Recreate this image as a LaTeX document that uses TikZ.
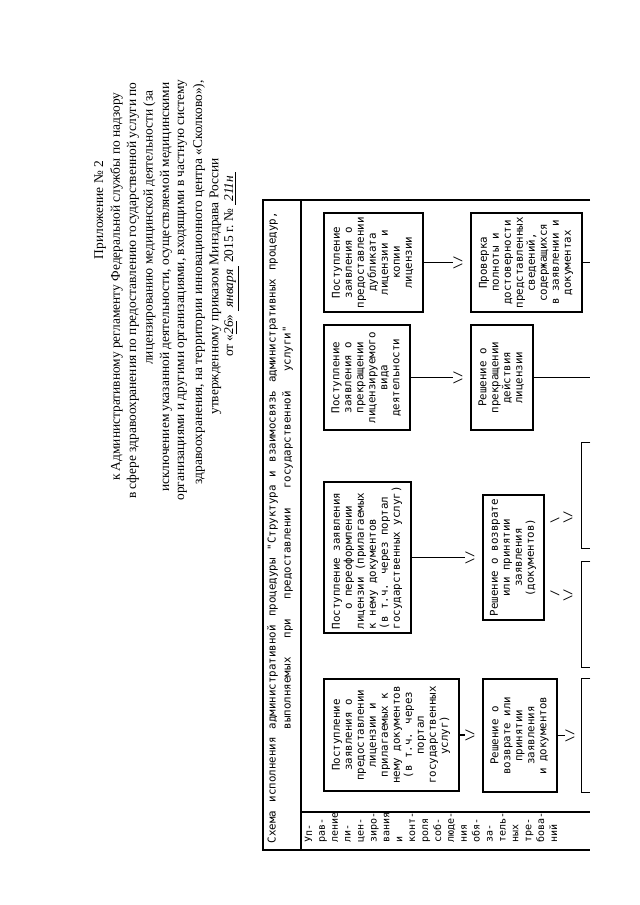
\documentclass[tikz,border=0pt]{standalone}
\usepackage{fontspec}
\usepackage{graphicx}
\setmainfont{Liberation Serif}
\newfontfamily\monof{DejaVu Sans Mono}
\newcommand\btx[2][c]{\rotatebox{90}{\monof\fontsize{5.4}{6}\selectfont\begin{tabular}{@{}#1@{}}#2\end{tabular}}}
\newcommand\hw[1]{\underline{\textit{#1}}}
\newcommand\vv{\rotatebox{90}{\monof\fontsize{5.4}{6}\selectfont\textbackslash/}}
\newcommand\slsh[1]{\rotatebox{90}{\monof\fontsize{5.4}{6}\selectfont #1}}
\begin{document}
\begin{tikzpicture}[x=0.5pt,y=-0.5pt,
  box/.style={draw, line width=0.6pt, inner sep=0pt, outer sep=0pt},
  frame/.style={line width=0.8pt},
  conn/.style={line width=0.6pt},
  hd/.style={rotate=90, inner sep=0pt, font=\fontsize{6.7}{8}\selectfont},
  vtip/.style={inner sep=0pt, outer sep=0.5pt}]
\useasboundingbox (0,0) rectangle (640,905);
\fill[white] (0,0) rectangle (640,905);

% header
\node[hd, anchor=center] (h1) at (100,210) {Приложение № 2};
\node[hd, anchor=east] (h2) at (116.5,92) {к Административному регламенту Федеральной службы по надзору};
\node[hd, anchor=east] (h3) at (133,82) {в сфере здравоохранения по предоставлению государственной услуги по};
\node[hd, anchor=east] (h4) at (149.5,90) {лицензированию медицинской деятельности (за};
\node[hd, anchor=east] (h5) at (166,82) {исключением указанной деятельности, осуществляемой медицинскими};
\node[hd, anchor=east] (h6) at (182.5,79) {организациями и другими организациями, входящими в частную систему};
\node[hd, anchor=east] (h7) at (199,80) {здравоохранения, на территории инновационного центра «Сколково»),};
\node[hd, anchor=east] (h8) at (215.5,158) {утвержденному приказом Минздрава России};
\node[hd, anchor=east] (h9) at (232,172) {от «\hw{26}» \hw{~января~} 2015 г. № \hw{~211н~}};

% frame
\draw[frame] (590,200) -- (263,200) -- (263,850) -- (590,850);
\draw[frame] (301,200) -- (301,850);
\draw[frame] (301,812) -- (590,812);

% title
\node[inner sep=0pt] (title) at (280,527.5) {\rotatebox{90}{\monof\fontsize{5.4}{7.5}\selectfont\begin{tabular}{@{}c@{}}\makebox[315.5pt]{Схема\hfill исполнения\hfill административной\hfill процедуры\hfill "Структура\hfill и\hfill взаимосвязь\hfill административных\hfill процедур,}\\\makebox[201.5pt]{выполняемых\hfill при\hfill предоставлении\hfill государственной\hfill услуги"}\end{tabular}}};

% lane label
\node[inner sep=0pt, anchor=south] (lane) at (432,843) {\rotatebox{90}{\monof\fontsize{5}{6.45}\selectfont\begin{tabular}{@{}l@{}}Уп-\\рав-\\ление\\ли-\\цен-\\зиро-\\вания\\и\\конт-\\роля\\соб-\\люде-\\ния\\обя-\\за-\\тель-\\ных\\тре-\\бова-\\ний\end{tabular}}};

% boxes
\node[box, minimum width=49.5pt, minimum height=49.5pt] (A) at (373.5,262.5) {\btx{Поступление\\заявления о\\предоставлении\\дубликата\\лицензии и\\копии\\лицензии}};
\node[box, minimum width=43pt, minimum height=52.5pt] (B) at (367,377.5) {\btx{Поступление\\заявления о\\прекращении\\лицензируемого\\вида\\деятельности}};
\node[box, minimum width=43.5pt, minimum height=75.5pt] (C) at (367.5,557.5) {\btx[l]{Поступление заявления\\\ \ \ о переоформлении\\лицензии (прилагаемых\\к нему документов\\(в т.ч. через портал\\государственных услуг)}};
\node[box, minimum width=67.5pt, minimum height=56pt] (D) at (391.5,735) {\btx{Поступление\\заявления о\\предоставлении\\лицензии и\\прилагаемых к\\нему документов\\(в т.ч. через\\портал\\государственных\\услуг)}};
\node[box, minimum width=31pt, minimum height=52.5pt] (G) at (502,377.5) {\btx{Решение о\\прекращении\\действия\\лицензии}};
\node[box, minimum width=55.5pt, minimum height=49.5pt] (H) at (526.5,262.5) {\btx{Проверка\\полноты и\\достоверности\\представленных\\сведений,\\содержащихся\\в заявлении и\\документах}};
\node[box, minimum width=30.5pt, minimum height=62.5pt] (F) at (513.5,557.5) {\btx{Решение о возврате\\или принятии\\заявления\\(документов)}};
\node[box, minimum width=37pt, minimum height=56.5pt] (E) at (520,735.5) {\btx{Решение о\\возврате или\\принятии\\заявления\\и документов}};

% partial boxes cut by page edge
\node[inner sep=0pt, minimum width=4pt, minimum height=52.5pt] (P1) at (586,495.5) {};
\node[inner sep=0pt, minimum width=4pt, minimum height=52.5pt] (P2) at (586,614.5) {};
\node[inner sep=0pt, minimum width=4pt, minimum height=56.5pt] (P3) at (586,735.5) {};
\foreach \p in {P1,P2,P3}
  \draw[line width=0.6pt] (\p.north east) -- (\p.north west) -- (\p.south west) -- (\p.south east);

% arrow tips
\node[vtip] (vA) at (458,262.5) {\vv};
\node[vtip] (vB) at (458,377.5) {\vv};
\node[vtip] (vC) at (470,557.5) {\vv};
\node[vtip] (vD) at (470,735) {\vv};
\node[vtip] (vE) at (570,735.5) {\vv};
\node[vtip] (s1) at (555,520) {\slsh{\textbackslash}};
\node[vtip] (v1) at (568,517) {\vv};
\node[vtip] (s2) at (555,593) {\slsh{/}};
\node[vtip] (v2) at (568,595) {\vv};

% connectors
\draw[conn] (A.east) -- (vA.west);
\draw[conn] (B.east) -- (vB.west);
\draw[conn] (C.east) -- (vC.west);
\draw[conn] (D.east) -- (vD.west);
\draw[conn] (E.east) -- (vE.west);
\coordinate (Hout) at (590,262.5);
\coordinate (Gout) at (590,377.5);
\draw[conn] (H.east) -- (Hout);
\draw[conn] (G.east) -- (Gout);
\end{tikzpicture}
\end{document}
